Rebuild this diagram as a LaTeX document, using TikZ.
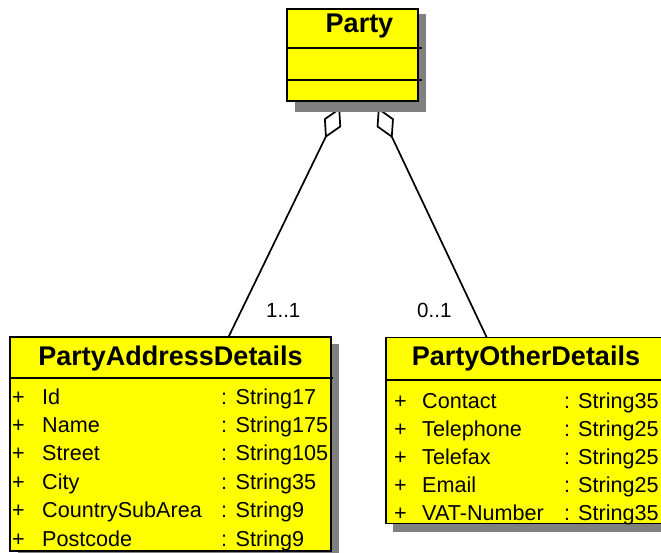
\documentclass[tikz,border=0pt]{standalone}
\usepackage{fontspec}
\setmainfont{Liberation Sans}
\usetikzlibrary{arrows.meta}
\definecolor{boxyellow}{RGB}{255,255,0}
\definecolor{shadowgray}{RGB}{128,128,128}
\tikzset{
  shadowbox/.style={fill=shadowgray, draw=none},
  classbox/.style={fill=boxyellow, draw=black, line width=1.8pt, inner sep=0pt},
  sepline/.style={draw=black, line width=1.8pt},
  headtext/.style={font=\fontsize{27}{31}\selectfont\bfseries, inner sep=0pt, anchor=base},
  attrtext/.style={font=\fontsize{21.6}{25}\selectfont, inner sep=0pt, anchor=base west},
  multtext/.style={font=\fontsize{20.5}{24}\selectfont, inner sep=0pt, anchor=base west},
  assoc/.style={draw=black, line width=1.7pt, -{Diamond[open, length=34pt, width=19pt, line width=1.7pt]}}
}
\begin{document}
\begin{tikzpicture}[x=1pt, y=-1pt]
\useasboundingbox (0,0) rectangle (661,552);
\clip (0,0) rectangle (661,552);
\fill[white] (0,0) rectangle (661,552);

% connectors (drawn first; shadow of Party covers the diamond tips)
\coordinate (aL) at (228,338);
\coordinate (dL) at (340,107.5);
\coordinate (aR) at (487,338);
\coordinate (dR) at (378,107.5);
\draw[assoc] (aL) -- (dL);
\draw[assoc] (aR) -- (dR);

% shadows
\fill[shadowgray] (295,14) rectangle (426,112);
\fill[shadowgray] (18,344) rectangle (339,560);
\fill[shadowgray] (393,345) rectangle (672,532);

% Party
\node[classbox, minimum width=131pt, minimum height=92pt] (party) at (352.5,55) {};
\draw[sepline] (287,48) -- (422,48);
\draw[sepline] (287,80) -- (422,80);
\node[headtext] (partyname) at (359.5,32) {Party};

% PartyAddressDetails
\node[classbox, minimum width=321pt, minimum height=214pt] (pad) at (170.5,444) {};
\draw[sepline] (10,378) -- (333,378);
\node[headtext] (padname) at (170.5,365) {PartyAddressDetails};

\node[attrtext] (p1) at (12,404) {+};
\node[attrtext] (n1) at (42,404) {Id};
\node[attrtext] (c1) at (221,404) {:};
\node[attrtext] (t1) at (235.5,404) {String17};

\node[attrtext] (p2) at (12,432.4) {+};
\node[attrtext] (n2) at (42,432.4) {Name};
\node[attrtext] (c2) at (221,432.4) {:};
\node[attrtext] (t2) at (235.5,432.4) {String175};

\node[attrtext] (p3) at (12,460.8) {+};
\node[attrtext] (n3) at (42,460.8) {Street};
\node[attrtext] (c3) at (221,460.8) {:};
\node[attrtext] (t3) at (235.5,460.8) {String105};

\node[attrtext] (p4) at (12,489.2) {+};
\node[attrtext] (n4) at (42,489.2) {City};
\node[attrtext] (c4) at (221,489.2) {:};
\node[attrtext] (t4) at (235.5,489.2) {String35};

\node[attrtext] (p5) at (12,517.6) {+};
\node[attrtext] (n5) at (42,517.6) {CountrySubArea};
\node[attrtext] (c5) at (221,517.6) {:};
\node[attrtext] (t5) at (235.5,517.6) {String9};

\node[attrtext] (p6) at (12,546) {+};
\node[attrtext] (n6) at (42,546) {Postcode};
\node[attrtext] (c6) at (221,546) {:};
\node[attrtext] (t6) at (235.5,546) {String9};

% PartyOtherDetails
\node[classbox, minimum width=279pt, minimum height=186pt] (pod) at (525.5,430.5) {};
\draw[sepline] (386,380) -- (667,380);
\node[headtext] (podname) at (526,365.5) {PartyOtherDetails};

\node[attrtext] (q1) at (394,408) {+};
\node[attrtext] (m1) at (422,408) {Contact};
\node[attrtext] (d1) at (564,408) {:};
\node[attrtext] (s1) at (578,408) {String35};

\node[attrtext] (q2) at (394,436) {+};
\node[attrtext] (m2) at (422,436) {Telephone};
\node[attrtext] (d2) at (564,436) {:};
\node[attrtext] (s2) at (578,436) {String25};

\node[attrtext] (q3) at (394,464) {+};
\node[attrtext] (m3) at (422,464) {Telefax};
\node[attrtext] (d3) at (564,464) {:};
\node[attrtext] (s3) at (578,464) {String25};

\node[attrtext] (q4) at (394,492) {+};
\node[attrtext] (m4) at (422,492) {Email};
\node[attrtext] (d4) at (564,492) {:};
\node[attrtext] (s4) at (578,492) {String25};

\node[attrtext] (q5) at (394,520) {+};
\node[attrtext] (m5) at (422,520) {VAT-Number};
\node[attrtext] (d5) at (564,520) {:};
\node[attrtext] (s5) at (578,520) {String35};

% multiplicities
\node[multtext] (mL) at (266,317.5) {1..1};
\node[multtext] (mR) at (417,317.5) {0..1};
\end{tikzpicture}
\end{document}
